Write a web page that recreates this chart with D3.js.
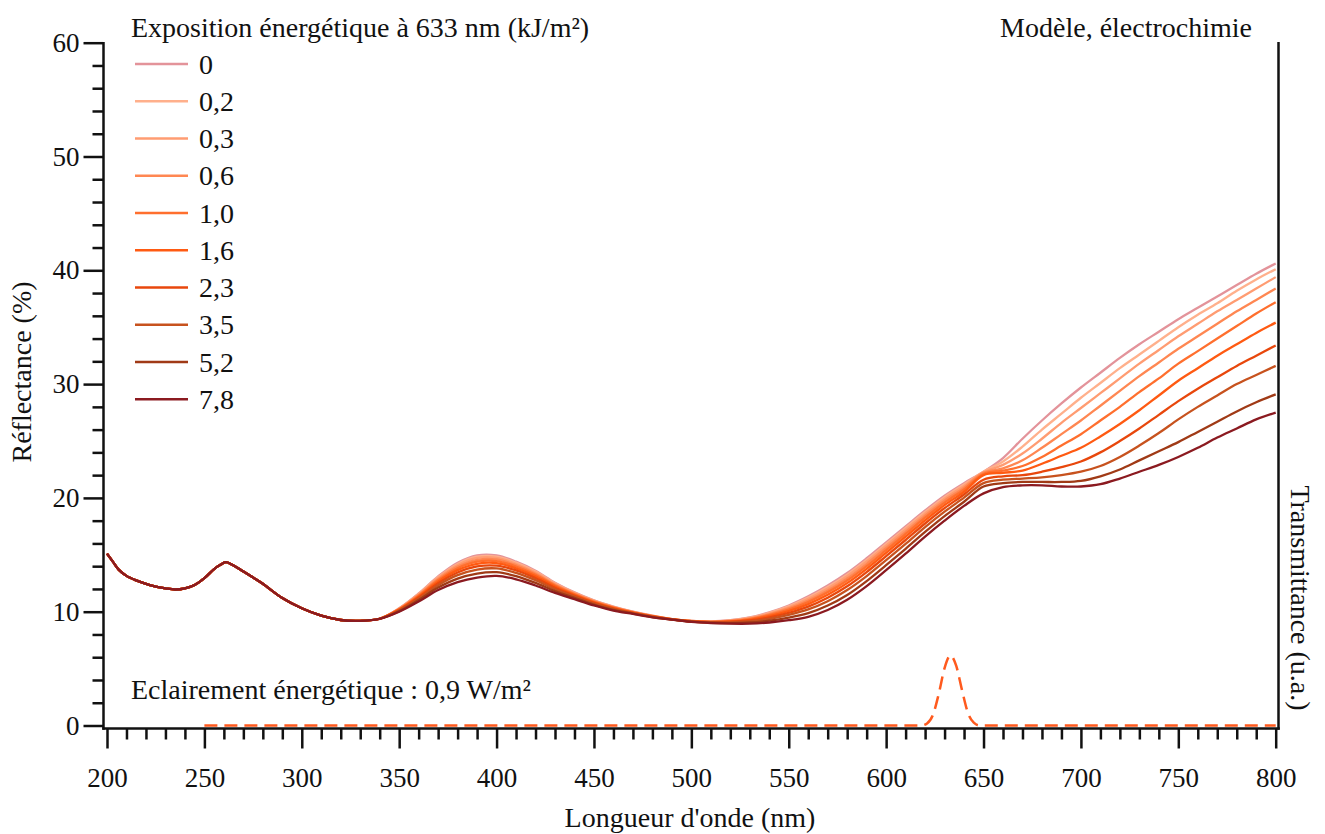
<!DOCTYPE html>
<html>
<head>
<meta charset="utf-8">
<script src="https://cdn.jsdelivr.net/npm/d3@7"></script>
<style>
  html, body { margin: 0; padding: 0; background: #fff; }
  svg { display: block; }
  text { font-family: "Liberation Serif", "DejaVu Serif", serif; fill: #111; }
</style>
</head>
<body>
<svg id="chart" width="1325" height="834"></svg>
<script>
// ---------------- DATA ----------------
const seriesLabels = ["0", "0,2", "0,3", "0,6", "1,0", "1,6", "2,3", "3,5", "5,2", "7,8"];
const seriesColors = ["#E3939A", "#FFB08C", "#FF9C72", "#FF8752", "#FF6F2E", "#FF5A12", "#E8470C", "#C7521E", "#A03A16", "#8B1A20"];

// common part of the spectra (all exposures overlap)
const wlCommon = [200, 203, 206, 210, 215, 220, 225, 230, 235, 240, 245, 250, 255, 258, 261, 264, 268, 275, 280, 290, 300, 310, 320, 330, 340];
const reflCommon = [15.1, 14.4, 13.7, 13.15, 12.75, 12.45, 12.2, 12.05, 11.95, 12.05, 12.35, 12.95, 13.75, 14.1, 14.35, 14.15, 13.75, 13.0, 12.45, 11.2, 10.3, 9.65, 9.27, 9.2, 9.38];

// wavelengths where exposures differ
const wlSeries = [350, 360, 370, 380, 390, 400, 410, 420, 430, 440, 450, 460, 470, 480, 490, 500, 510, 520, 530, 540, 550, 560, 570, 580, 590, 600, 610, 620, 630, 640, 650, 660, 670, 680, 690, 700, 710, 720, 730, 740, 750, 760, 770, 780, 790, 800];

const refl_0   = [10.3, 11.6, 13.1, 14.3, 14.95, 14.95, 14.4, 13.6, 12.55, 11.7, 11.0, 10.45, 10.0, 9.65, 9.35, 9.2, 9.15, 9.25, 9.5, 9.95, 10.55, 11.35, 12.3, 13.4, 14.7, 16.1, 17.5, 18.9, 20.2, 21.3, 22.3, 23.5, 25.2, 26.8, 28.3, 29.7, 31.0, 32.3, 33.5, 34.6, 35.7, 36.7, 37.7, 38.7, 39.7, 40.6];
const refl_0_2 = [10.28, 11.56, 13.03, 14.2, 14.83, 14.84, 14.31, 13.52, 12.5, 11.66, 10.97, 10.43, 9.99, 9.64, 9.35, 9.19, 9.14, 9.23, 9.47, 9.9, 10.47, 11.24, 12.17, 13.26, 14.55, 15.95, 17.36, 18.76, 20.07, 21.18, 22.3, 23.2, 24.5, 26.0, 27.4, 28.8, 30.1, 31.4, 32.6, 33.8, 35.0, 36.1, 37.1, 38.2, 39.2, 40.1];
const refl_0_3 = [10.26, 11.52, 12.96, 14.1, 14.72, 14.73, 14.21, 13.44, 12.44, 11.63, 10.95, 10.41, 9.98, 9.63, 9.34, 9.19, 9.13, 9.21, 9.43, 9.84, 10.39, 11.13, 12.04, 13.12, 14.41, 15.81, 17.21, 18.62, 19.94, 21.06, 22.25, 22.9, 23.9, 25.2, 26.6, 27.9, 29.2, 30.5, 31.8, 33.0, 34.2, 35.3, 36.4, 37.4, 38.4, 39.4];
const refl_0_6 = [10.24, 11.46, 12.86, 13.96, 14.56, 14.59, 14.09, 13.34, 12.37, 11.58, 10.91, 10.38, 9.96, 9.62, 9.34, 9.18, 9.12, 9.19, 9.39, 9.77, 10.29, 10.99, 11.87, 12.93, 14.21, 15.61, 17.02, 18.44, 19.76, 20.9, 22.2, 22.6, 23.3, 24.4, 25.6, 26.8, 28.1, 29.4, 30.7, 31.9, 33.1, 34.2, 35.3, 36.4, 37.4, 38.4];
const refl_1_0 = [10.22, 11.4, 12.76, 13.82, 14.4, 14.45, 13.97, 13.24, 12.3, 11.53, 10.87, 10.35, 9.94, 9.61, 9.34, 9.17, 9.11, 9.17, 9.35, 9.7, 10.19, 10.85, 11.7, 12.74, 14.01, 15.41, 16.83, 18.26, 19.58, 20.74, 22.1, 22.4, 22.8, 23.6, 24.6, 25.6, 26.8, 28.0, 29.3, 30.5, 31.8, 32.9, 34.0, 35.1, 36.2, 37.2];
const refl_1_6 = [10.19, 11.33, 12.64, 13.65, 14.21, 14.27, 13.81, 13.11, 12.21, 11.47, 10.83, 10.32, 9.92, 9.59, 9.33, 9.16, 9.09, 9.14, 9.29, 9.61, 10.06, 10.67, 11.48, 12.51, 13.77, 15.17, 16.59, 18.03, 19.36, 20.54, 22.0, 22.2, 22.4, 23.0, 23.7, 24.4, 25.4, 26.5, 27.7, 29.0, 30.3, 31.4, 32.5, 33.5, 34.5, 35.4];
const refl_2_3 = [10.15, 11.25, 12.5, 13.45, 13.98, 14.05, 13.63, 12.95, 12.1, 11.4, 10.78, 10.28, 9.9, 9.58, 9.33, 9.15, 9.08, 9.1, 9.23, 9.5, 9.9, 10.45, 11.23, 12.23, 13.48, 14.88, 16.3, 17.75, 19.1, 20.3, 21.6, 21.9, 22.0, 22.3, 22.7, 23.2, 24.0, 25.0, 26.1, 27.3, 28.5, 29.6, 30.6, 31.6, 32.5, 33.4];
const refl_3_5 = [10.11, 11.15, 12.33, 13.21, 13.7, 13.8, 13.41, 12.77, 11.97, 11.32, 10.71, 10.23, 9.87, 9.55, 9.32, 9.14, 9.05, 9.06, 9.15, 9.37, 9.72, 10.2, 10.92, 11.9, 13.13, 14.53, 15.96, 17.43, 18.79, 20.02, 21.3, 21.6, 21.7, 21.8, 22.0, 22.3, 22.8, 23.6, 24.6, 25.7, 26.9, 28.0, 29.0, 30.0, 30.8, 31.6];
const refl_5_2 = [10.05, 11.03, 12.12, 12.91, 13.35, 13.47, 13.13, 12.53, 11.81, 11.21, 10.63, 10.16, 9.84, 9.53, 9.31, 9.12, 9.03, 9.0, 9.05, 9.21, 9.48, 9.87, 10.54, 11.47, 12.69, 14.09, 15.53, 17.01, 18.4, 19.66, 21.0, 21.3, 21.4, 21.4, 21.4, 21.5, 21.9, 22.5, 23.3, 24.1, 24.9, 25.8, 26.7, 27.6, 28.4, 29.1];
const refl_7_8 = [10.0, 10.9, 11.9, 12.6, 13.0, 13.15, 12.85, 12.3, 11.65, 11.1, 10.55, 10.1, 9.8, 9.5, 9.3, 9.1, 9.0, 8.95, 8.95, 9.05, 9.25, 9.55, 10.15, 11.05, 12.25, 13.65, 15.1, 16.6, 18.0, 19.3, 20.4, 20.95, 21.1, 21.1, 21.0, 21.0, 21.2, 21.7, 22.3, 22.9, 23.6, 24.4, 25.3, 26.1, 26.9, 27.5];

const seriesValues = [refl_0, refl_0_2, refl_0_3, refl_0_6, refl_1_0, refl_1_6, refl_2_3, refl_3_5, refl_5_2, refl_7_8];

// lamp transmittance (arbitrary units)
const wlTrans = [250, 600, 618, 621, 624, 627, 630, 633, 636, 639, 642, 645, 648, 800];
const transValues = [0, 0, 0, 0.03, 0.15, 0.45, 0.82, 1.0, 0.85, 0.5, 0.18, 0.04, 0, 0];

const xTicks = [200, 250, 300, 350, 400, 450, 500, 550, 600, 650, 700, 750, 800];
const yTicks = [0, 10, 20, 30, 40, 50, 60];

// ---------------- CHART ----------------
const svg = d3.select("#chart");
const FS = 28;      // text size
const FT = 27;      // tick label size

const x = d3.scaleLinear().domain([200, 800]).range([107, 1275.7]);
const y = d3.scaleLinear().domain([0, 60]).range([725.5, 42.7]);
const yRight = d3.scaleLinear().domain([0, 9.75]).range([725.5, 42.7]);

const axisX = 728.5, axisLeft = 103.5, axisRight = 1278.5, axisTop = 42;

// minor ticks
const xMinor = d3.range(200, 801, 10).filter(v => v % 50 !== 0);
const yMinor = d3.range(0, 61, 2).filter(v => v % 10 !== 0);

const gx = svg.append("g").attr("transform", `translate(0,${axisX})`);
gx.call(d3.axisBottom(x).tickValues(xTicks).tickSize(20).tickFormat(d3.format("d")).tickSizeOuter(0));
gx.append("g").call(d3.axisBottom(x).tickValues(xMinor).tickSize(11).tickFormat("").tickSizeOuter(0));
gx.selectAll(".domain").remove();
gx.selectAll("line").attr("stroke", "#111").attr("stroke-width", 2.5);
gx.selectAll("text").attr("font-size", FT).attr("dy", 0).attr("y", 58).attr("fill", "#111");

const gy = svg.append("g").attr("transform", `translate(${axisLeft},0)`);
gy.call(d3.axisLeft(y).tickValues(yTicks).tickSize(20).tickFormat(d3.format("d")).tickSizeOuter(0));
gy.append("g").call(d3.axisLeft(y).tickValues(yMinor).tickSize(11).tickFormat("").tickSizeOuter(0));
gy.selectAll(".domain").remove();
gy.selectAll("line").attr("stroke", "#111").attr("stroke-width", 2.5);
gy.selectAll("text").attr("font-size", FT).attr("x", -24).attr("dy", "0.32em").attr("fill", "#111");

// axis frame lines
svg.append("line").attr("x1", axisLeft).attr("x2", axisLeft).attr("y1", axisTop).attr("y2", axisX + 1.25).attr("stroke", "#111").attr("stroke-width", 2.5);
svg.append("line").attr("x1", axisRight).attr("x2", axisRight).attr("y1", axisTop).attr("y2", axisX + 1.25).attr("stroke", "#111").attr("stroke-width", 2.5);
svg.append("line").attr("x1", axisLeft - 1.25).attr("x2", axisRight + 1.25).attr("y1", axisX).attr("y2", axisX).attr("stroke", "#111").attr("stroke-width", 2.5);

// spectra
const line = d3.line().x(d => x(d[0])).y(d => y(d[1])).curve(d3.curveCatmullRom.alpha(0.5));
seriesValues.forEach((vals, i) => {
  const pts = wlCommon.map((w, j) => [w, reflCommon[j]]).concat(wlSeries.map((w, j) => [w, vals[j]]));
  svg.append("path").datum(pts).attr("d", line)
    .attr("fill", "none").attr("stroke", seriesColors[i]).attr("stroke-width", 2.3)
    .attr("stroke-linejoin", "round");
});

// transmittance
const tLine = d3.line().x(d => x(d[0])).y(d => yRight(d[1])).curve(d3.curveMonotoneX);
svg.append("path").datum(wlTrans.map((w, j) => [w, transValues[j]])).attr("d", tLine)
  .attr("fill", "none").attr("stroke", "#FF5A1E").attr("stroke-width", 2.5)
  .attr("stroke-dasharray", "13,7");

// legend
svg.append("text").attr("x", 131).attr("y", 37).attr("font-size", FS).text("Exposition énergétique à 633 nm (kJ/m²)");
seriesLabels.forEach((lab, i) => {
  const cy = 64 + i * 37.25;
  svg.append("line").attr("x1", 135).attr("x2", 188).attr("y1", cy).attr("y2", cy)
    .attr("stroke", seriesColors[i]).attr("stroke-width", 2.5);
  svg.append("text").attr("x", 199).attr("y", cy).attr("dy", "0.34em").attr("font-size", FS).text(lab);
});

svg.append("text").attr("x", 1252).attr("y", 37).attr("text-anchor", "end").attr("font-size", FS).text("Modèle, électrochimie");
svg.append("text").attr("x", 131).attr("y", 699).attr("font-size", FS).text("Eclairement énergétique : 0,9 W/m²");

// axis titles
svg.append("text").attr("x", 690).attr("y", 827).attr("text-anchor", "middle").attr("font-size", FS).text("Longueur d'onde (nm)");
svg.append("text").attr("transform", "translate(31,372) rotate(-90)").attr("text-anchor", "middle").attr("font-size", FS).text("Réflectance (%)");
svg.append("text").attr("transform", "translate(1291,598) rotate(90)").attr("text-anchor", "middle").attr("font-size", FS).text("Transmittance (u.a.)");
</script>
</body>
</html>
